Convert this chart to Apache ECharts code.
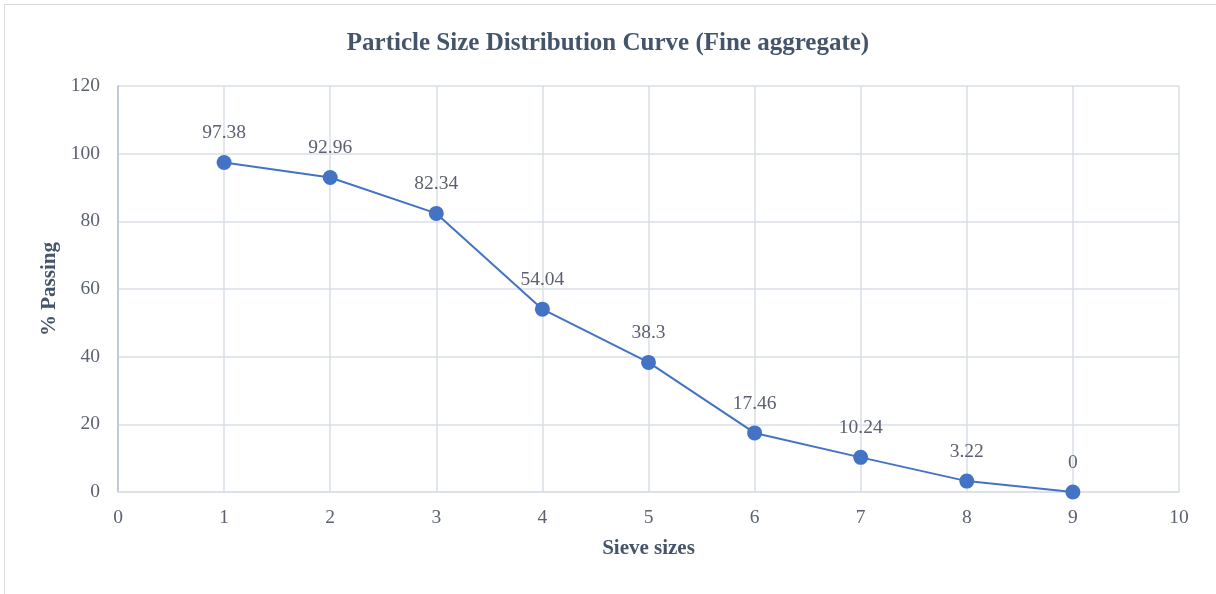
<!DOCTYPE html>
<html>
<head>
<meta charset="utf-8">
<script src="https://cdn.jsdelivr.net/npm/echarts@6/dist/echarts.min.js"></script>
<style>
  html, body { margin: 0; padding: 0; background: #fff; }
  #chart { width: 1216px; height: 594px; }
</style>
</head>
<body>
<div id="chart"></div>
<script>
// Sieve numbers (x) and cumulative percentage passing (y)
const sieveSizes = [1, 2, 3, 4, 5, 6, 7, 8, 9];
const percentPassing = [97.38, 92.96, 82.34, 54.04, 38.3, 17.46, 10.24, 3.22, 0];

const titleText = 'Particle Size Distribution Curve (Fine aggregate)';
const xAxisTitle = 'Sieve sizes';
const yAxisTitle = '% Passing';

const serif = '"Liberation Serif", "DejaVu Serif", serif';
const labelColor = '#5b6170';
const titleColor = '#44546a';
const gridColor = '#d9dee7';

const chart = echarts.init(document.getElementById('chart'), null, { renderer: 'canvas' });

chart.setOption({
  backgroundColor: '#ffffff',
  animation: false,
  graphic: [{
    type: 'rect',
    shape: { x: 4.5, y: 4.5, width: 1240, height: 620 },
    style: { fill: 'none', stroke: '#d9d9d9', lineWidth: 1 },
    silent: true
  }],
  title: {
    text: titleText,
    left: 'center',
    top: 26,
    textStyle: { fontFamily: serif, fontSize: 25, fontWeight: 'bold', color: titleColor }
  },
  grid: { left: 118, right: 37, top: 86, bottom: 102, containLabel: false },
  xAxis: {
    type: 'value',
    min: 0, max: 10, interval: 1,
    name: xAxisTitle,
    nameLocation: 'middle',
    nameGap: 46,
    nameTextStyle: { fontFamily: serif, fontSize: 21, fontWeight: 'bold', color: titleColor },
    axisLine: { show: true, lineStyle: { color: gridColor, width: 1.5 } },
    axisTick: { show: false },
    axisLabel: { fontFamily: serif, fontSize: 19.5, color: labelColor, margin: 16 },
    splitLine: { show: true, lineStyle: { color: gridColor, width: 1.5 } }
  },
  yAxis: {
    type: 'value',
    min: 0, max: 120, interval: 20,
    name: yAxisTitle,
    nameLocation: 'middle',
    nameGap: 57,
    nameRotate: 90,
    nameTextStyle: { fontFamily: serif, fontSize: 21, fontWeight: 'bold', color: titleColor },
    axisLine: { show: true, lineStyle: { color: '#b9c1cf', width: 1.5 } },
    axisTick: { show: false },
    axisLabel: { fontFamily: serif, fontSize: 19.5, color: labelColor, margin: 18 },
    splitLine: { show: true, lineStyle: { color: gridColor, width: 1.5 } }
  },
  series: [{
    type: 'line',
    data: sieveSizes.map((s, i) => [s, percentPassing[i]]),
    symbol: 'circle',
    symbolSize: 15,
    lineStyle: { color: '#4472c4', width: 2 },
    itemStyle: { color: '#4472c4' },
    label: {
      show: true,
      position: 'top',
      distance: 12,
      fontFamily: serif,
      fontSize: 19.5,
      color: labelColor,
      formatter: p => String(p.value[1])
    }
  }]
});
</script>
</body>
</html>
